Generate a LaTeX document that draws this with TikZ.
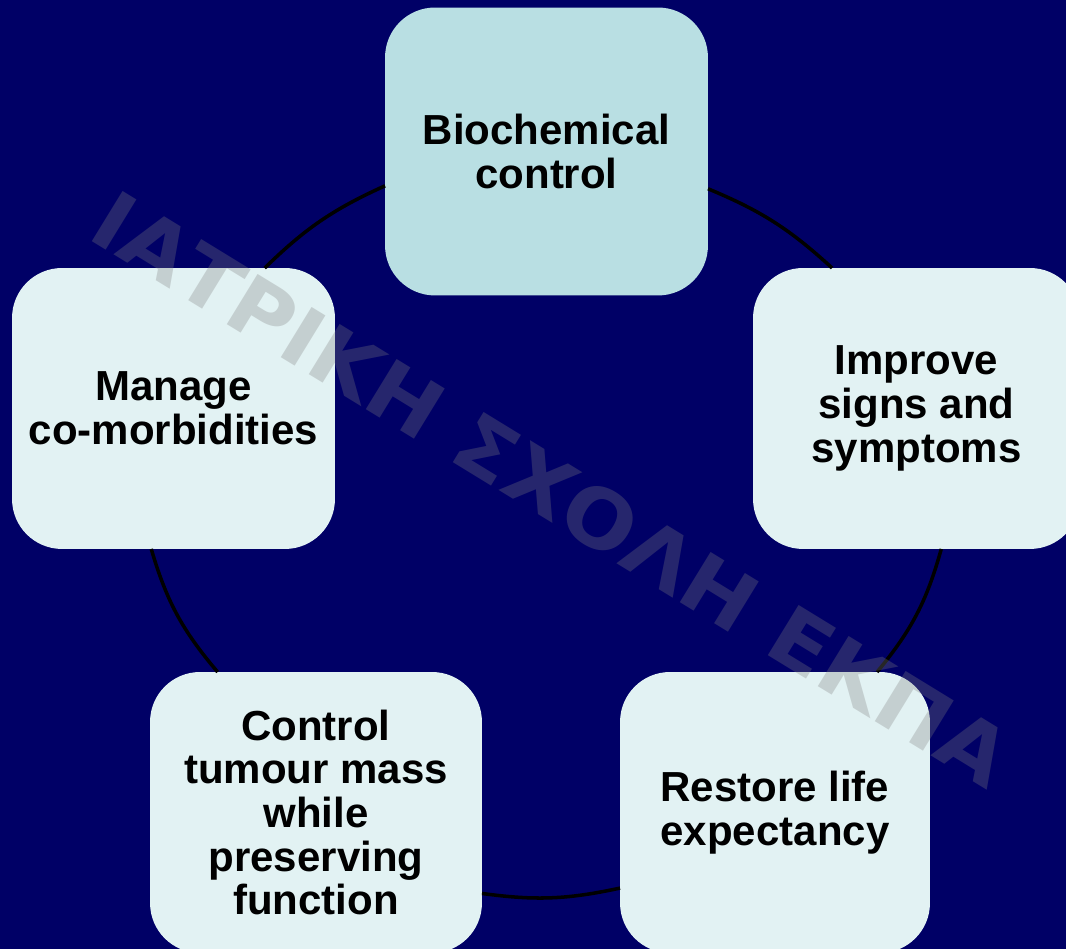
\documentclass[tikz,border=0pt]{standalone}
\usepackage{fontspec}
\setmainfont{Liberation Sans}
\newfontfamily\wmfont{DejaVu Sans}
\definecolor{bgc}{HTML}{000066}
\definecolor{bioc}{HTML}{B9DFE3}
\definecolor{boxc}{HTML}{E2F2F3}
\definecolor{wmc}{HTML}{808080}
\begin{document}
\begin{tikzpicture}[x=0.02cm,y=0.02cm,
  box/.style={rounded corners=1cm, fill=boxc, inner sep=0pt, outer sep=0pt,
    align=center, text=black, font=\fontsize{23.9}{24.9}\selectfont\bfseries},
  link/.style={line width=2pt, draw=black},
  wmark/.style={text=wmc, text opacity=0.3, inner sep=0pt,
    font=\wmfont\bfseries\fontsize{46}{46}\selectfont}]
\clip (0,0) rectangle (1066,949);
\fill[bgc] (0,0) rectangle (1066,949);
\node[box, fill=bioc, minimum width=6.46cm, minimum height=5.76cm] (bio) at (546.5,797.5) {Biochemical\\control};
\node[box, minimum width=6.54cm, minimum height=5.62cm] (imp) at (916.5,540.5) {Improve\\signs and\\symptoms};
\node[box, minimum width=6.2cm, minimum height=5.62cm] (res) at (775,136.5) {Restore life\\expectancy};
\node[box, minimum width=6.64cm, minimum height=5.62cm] (ctl) at (316,136.5) {Control\\tumour mass\\while\\preserving\\function};
\node[box, minimum width=6.46cm, minimum height=5.62cm] (man) at (173.5,540.5) {Manage\\co-morbidities};
\draw[link] (bio.347.6) to[bend left=10] (imp.121.6);
\draw[link] (imp.280.3) to[bend left=12] (res.54);
\draw[link] (res.206.6) to[bend left=10] (ctl.334.4);
\draw[link] (ctl.125.4) to[bend left=12] (man.261.3);
\draw[link] (man.57.5) to[bend left=10] (bio.192.4);
\node[wmark, rotate=-31.5, xscale=1.07] (wm) at (552,460) {ΙΑΤΡΙΚΗ ΣΧΟΛΗ ΕΚΠΑ};
\end{tikzpicture}
\end{document}
